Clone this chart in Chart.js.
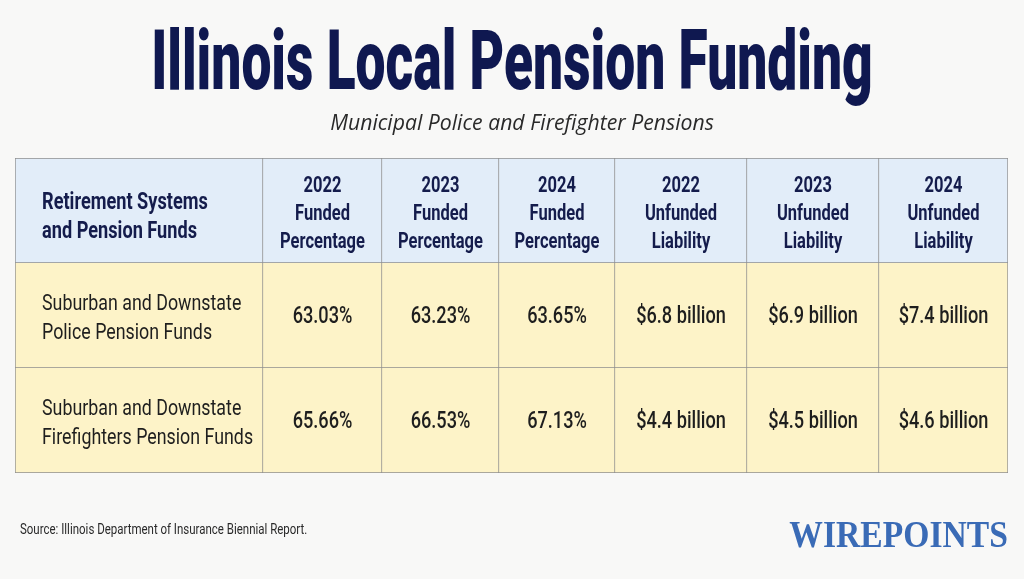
<!DOCTYPE html>
<html>
<head>
<meta charset="utf-8">
<script src="https://cdn.jsdelivr.net/npm/chart.js@4"></script>
<style>
  html, body { margin: 0; padding: 0; background: #f8f8f7; }
  #wrap { width: 1024px; height: 579px; position: relative; }
</style>
</head>
<body>
<div id="wrap"><canvas id="table"></canvas></div>
<script>
// table content
const columnHeaders = [
    ['Retirement Systems', 'and Pension Funds'],
    ['2022', 'Funded', 'Percentage'],
    ['2023', 'Funded', 'Percentage'],
    ['2024', 'Funded', 'Percentage'],
    ['2022', 'Unfunded', 'Liability'],
    ['2023', 'Unfunded', 'Liability'],
    ['2024', 'Unfunded', 'Liability']
];
const fundNames = [
    ['Suburban and Downstate', 'Police Pension Funds'],
    ['Suburban and Downstate', 'Firefighters Pension Funds']
];
const funded2022 = [63.03, 65.66];
const funded2023 = [63.23, 66.53];
const funded2024 = [63.65, 67.13];
const unfunded2022 = [6.8, 4.4];   // $ billion
const unfunded2023 = [6.9, 4.5];
const unfunded2024 = [7.4, 4.6];

// layout: relative column widths
const colWidths = [248, 119, 117, 116, 132, 132, 129];
const rows = ['header', 'police', 'fire'];

const pct = v => v.toFixed(2) + '%';
const bil = v => '$' + v.toFixed(1) + ' billion';
const bodyCols = [
    fundNames,
    funded2022.map(pct), funded2023.map(pct), funded2024.map(pct),
    unfunded2022.map(bil), unfunded2023.map(bil), unfunded2024.map(bil)
];

function squeezeText(ctx, text, x, y, font, color, sx, align) {
    ctx.save();
    ctx.font = font;
    ctx.fillStyle = color;
    ctx.textAlign = align || 'center';
    ctx.textBaseline = 'middle';
    ctx.translate(x, y);
    ctx.scale(sx, 1);
    ctx.fillText(text, 0, 0);
    ctx.restore();
}

const cellText = {
    id: 'cellText',
    afterDatasetsDraw(chart) {
        const ctx = chart.ctx;
        chart.data.datasets.forEach((ds, col) => {
            chart.getDatasetMeta(col).data.forEach((bar, row) => {
                const p = bar.getProps(['x', 'y', 'base'], true);
                const left = Math.min(p.x, p.base), right = Math.max(p.x, p.base);
                const cx = (left + right) / 2;
                if (row === 0) {
                    const lines = columnHeaders[col];
                    if (col === 0) {
                        lines.forEach((t, i) => squeezeText(ctx, t, left + 27, p.y - 7 + i * 29,
                            'bold 23px Roboto', '#141c4c', 0.79, 'left'));
                    } else {
                        lines.forEach((t, i) => squeezeText(ctx, t, cx, p.y - 24 + i * 28,
                            'bold 22px Roboto', '#141c4c', 0.75));
                    }
                } else {
                    const v = bodyCols[col][row - 1];
                    if (col === 0) {
                        v.forEach((t, i) => squeezeText(ctx, t, left + 27, p.y - 11 + i * 29,
                            '22px Roboto', '#1e1e1e', 0.81, 'left'));
                    } else {
                        squeezeText(ctx, v, cx, p.y + 2, '500 23px Roboto', '#1e1e1e', 0.79);
                    }
                }
            });
        });
    },
    afterDraw(chart) {
        const ctx = chart.ctx;
        squeezeText(ctx, 'Illinois Local Pension Funding', 512, 68, '900 84px Roboto', '#0f1850', 0.635);
        squeezeText(ctx, 'Municipal Police and Firefighter Pensions', 522, 124, 'italic 21px "Open Sans"', '#2a2a2a', 1.01);
        squeezeText(ctx, 'Source: Illinois Department of Insurance Biennial Report.', 20, 530, '14px Roboto', '#2a2a2a', 0.82, 'left');
        squeezeText(ctx, 'WIREPOINTS', 1008, 537, 'bold 38px "Liberation Serif"', '#3a6bb6', 0.885, 'right');
    }
};

const datasets = colWidths.map((w, col) => ({
    label: columnHeaders[col].join(' '),
    data: rows.map(() => w),
    backgroundColor: rows.map(r => r === 'header' ? '#e2edf9' : '#fdf3c8'),
    borderColor: '#8e8e8e',
    borderSkipped: false,
    borderWidth: ctx => ({
        top: ctx.dataIndex === 0 ? 1 : 0,
        bottom: 1,
        left: ctx.datasetIndex === 0 ? 1 : 0,
        right: 1
    }),
    barPercentage: 1,
    categoryPercentage: 1
}));

new Chart(document.getElementById('table'), {
    type: 'bar',
    data: { labels: rows, datasets: datasets },
    options: {
        indexAxis: 'y',
        responsive: true,
        maintainAspectRatio: false,
        animation: false,
        devicePixelRatio: 1,
        layout: { padding: { left: 15, right: 16, top: 158, bottom: 106 } },
        scales: {
            x: { stacked: true, display: false, min: 0, max: colWidths.reduce((a, b) => a + b, 0) },
            y: { stacked: true, display: false }
        },
        plugins: {
            legend: { display: false },
            tooltip: { enabled: false }
        }
    },
    plugins: [cellText]
});
</script>
</body>
</html>
